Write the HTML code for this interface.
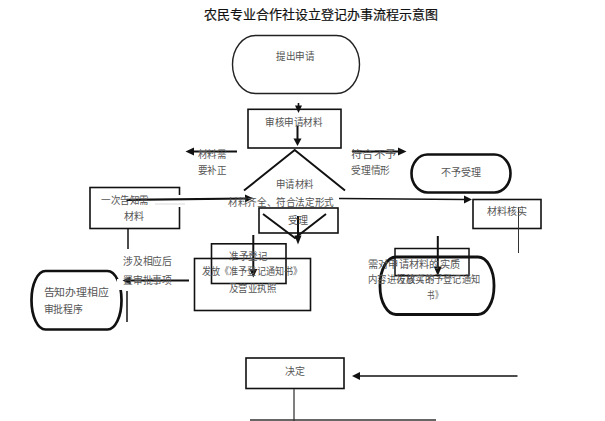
<!DOCTYPE html>
<html lang="zh-CN"><head><meta charset="utf-8">
<style>
html,body{margin:0;padding:0;background:#fff;width:605px;height:421px;overflow:hidden}
svg{position:absolute;left:0;top:0}
text{font-family:"Liberation Serif",serif;font-size:10px;fill:#555}
.t{font-family:"Liberation Sans",sans-serif;font-size:13px;fill:#111;stroke:#111;stroke-width:0.2}
</style></head><body>
<svg width="605" height="421" viewBox="0 0 605 421">
<g fill="none" stroke="#111">
<rect x="232.5" y="35.5" width="127" height="58" rx="23" ry="29" stroke="#222" stroke-width="1.4"/>
<rect x="248" y="109.3" width="93" height="38.7" stroke-width="1.6"/>
<polyline points="244,190.5 294.7,150 345,190.5" stroke-width="2"/>
<rect x="259" y="208" width="79" height="25" stroke-width="1.6"/>
<polyline points="263,214 295,238 326,214" stroke-width="2"/>
<rect x="473" y="199.5" width="68" height="29" stroke-width="1.6"/>
<line x1="518.5" y1="207" x2="518.5" y2="253" stroke="#333" stroke-width="1"/>
<rect x="411.5" y="154.5" width="99" height="38" rx="16" ry="19" stroke-width="2.6"/>
<rect x="90" y="187.5" width="89.5" height="41" stroke-width="1.6"/>
<rect x="177" y="195" width="5" height="12" fill="#fff" stroke="none"/>
<line x1="155" y1="204" x2="185" y2="204" stroke="#e2e2e2" stroke-width="1.2"/>
<line x1="128" y1="228" x2="128" y2="249" stroke-width="1.5"/>
<line x1="127" y1="291" x2="127" y2="322" stroke-width="1.5"/>
<rect x="31.5" y="271" width="90" height="58.5" rx="14" ry="29" stroke-width="2.7"/>
<rect x="117" y="279" width="8" height="11" fill="#fff" stroke="none"/>
<rect x="211.5" y="243.8" width="74.5" height="39.7" stroke-width="1.6"/>
<rect x="194.5" y="258.5" width="116" height="52" stroke-width="1.6"/>
<rect x="395" y="248.5" width="74" height="27" stroke-width="1.5"/>
<rect x="380" y="257" width="114" height="57.5" rx="16" ry="28" stroke-width="2.8"/>
<rect x="246" y="358" width="98" height="30.5" stroke-width="1.6"/>
<line x1="294" y1="389" x2="294" y2="421" stroke="#555" stroke-width="1.5"/>
<line x1="250" y1="420" x2="436" y2="420" stroke="#333" stroke-width="1.5"/>
<line x1="298.5" y1="103" x2="298.5" y2="108" stroke-width="1.6"/>
<line x1="297.5" y1="126" x2="297.5" y2="140" stroke-width="2"/>
<line x1="237" y1="151.5" x2="192" y2="151.5" stroke-width="2"/>
<line x1="352" y1="151.5" x2="400" y2="151.5" stroke-width="2"/>
<line x1="126.5" y1="199.8" x2="246" y2="198.5" stroke-width="2.2"/>
<line x1="339" y1="198.5" x2="465" y2="199.5" stroke-width="1.6"/>
<line x1="298" y1="216" x2="298" y2="237" stroke-width="2"/>
<line x1="253.3" y1="235" x2="253.3" y2="270" stroke-width="2"/>
<line x1="437.8" y1="236" x2="437.8" y2="267" stroke-width="2"/>
<line x1="189" y1="280.5" x2="129" y2="280.5" stroke-width="2"/>
<line x1="517.5" y1="376" x2="359" y2="376" stroke-width="1.7"/>
</g>
<g fill="#111" stroke="none">
<polygon points="295,105.5 302,105.5 298.5,113"/>
<polygon points="293.5,138.5 301.5,138.5 297.5,146"/>
<polygon points="194,147.5 194,155.5 185.5,151.5"/>
<polygon points="398,147.5 398,155.5 406.5,151.5"/>
<polygon points="245,194.5 245,202.5 253,198.3"/>
<polygon points="464,195.5 464,203.5 472,199.5"/>
<polygon points="294.5,235.5 301.5,235.5 298,244.5"/>
<polygon points="249.3,269 257.3,269 253.3,277.5"/>
<polygon points="433.8,266.5 441.8,266.5 437.8,276"/>
<polygon points="130.5,276.5 130.5,284.5 122.5,280.5"/>
<polygon points="360,372 360,380 352,376"/>
</g>
<text class="t" x="204" y="18.7" textLength="234" lengthAdjust="spacingAndGlyphs">农民专业合作社设立登记办事流程示意图</text>
<text x="276" y="60" textLength="38.5" lengthAdjust="spacingAndGlyphs">提出申请</text>
<text x="265" y="125.5" textLength="57.5" lengthAdjust="spacingAndGlyphs">审核申请材料</text>
<text x="276" y="188" textLength="37.5" lengthAdjust="spacingAndGlyphs">申请材料</text>
<text x="228" y="206" textLength="106" lengthAdjust="spacingAndGlyphs">材料齐全、符合法定形式</text>
<text x="197.5" y="158" textLength="28.5" lengthAdjust="spacingAndGlyphs">材料需</text>
<text x="197.5" y="174" textLength="28.5" lengthAdjust="spacingAndGlyphs">要补正</text>
<text x="351" y="158" textLength="45" lengthAdjust="spacingAndGlyphs">符合不予</text>
<text x="351" y="174" textLength="39" lengthAdjust="spacingAndGlyphs">受理情形</text>
<text x="441" y="176">不予受理</text>
<text x="487" y="215">材料核实</text>
<text x="101" y="204" textLength="47.5" lengthAdjust="spacingAndGlyphs">一次告知需</text>
<text x="124" y="220">材料</text>
<text x="123" y="265" textLength="49" lengthAdjust="spacingAndGlyphs">涉及相应后</text>
<text x="123" y="284" textLength="49" lengthAdjust="spacingAndGlyphs">置审批事项</text>
<text x="43.5" y="296" textLength="65.5" lengthAdjust="spacingAndGlyphs">告知办理相应</text>
<text x="43.5" y="313" textLength="39.5" lengthAdjust="spacingAndGlyphs">审批程序</text>
<text x="288" y="224">受理</text>
<text x="229" y="260" textLength="38" lengthAdjust="spacingAndGlyphs">准予登记</text>
<text x="202" y="275" textLength="100" lengthAdjust="spacingAndGlyphs">发放《准予登记通知书》</text>
<text x="229" y="292" textLength="47" lengthAdjust="spacingAndGlyphs">及营业执照</text>
<text x="368" y="267.5" textLength="92" lengthAdjust="spacingAndGlyphs">需对申请材料的实质</text>
<text x="368" y="283" textLength="66" lengthAdjust="spacingAndGlyphs">内容进行核实的</text>
<text x="397" y="283" textLength="83" lengthAdjust="spacingAndGlyphs">发放《不予登记通知</text>
<text x="427" y="299" textLength="15" lengthAdjust="spacingAndGlyphs">书》</text>
<text x="285" y="375">决定</text>
</svg>
</body></html>
